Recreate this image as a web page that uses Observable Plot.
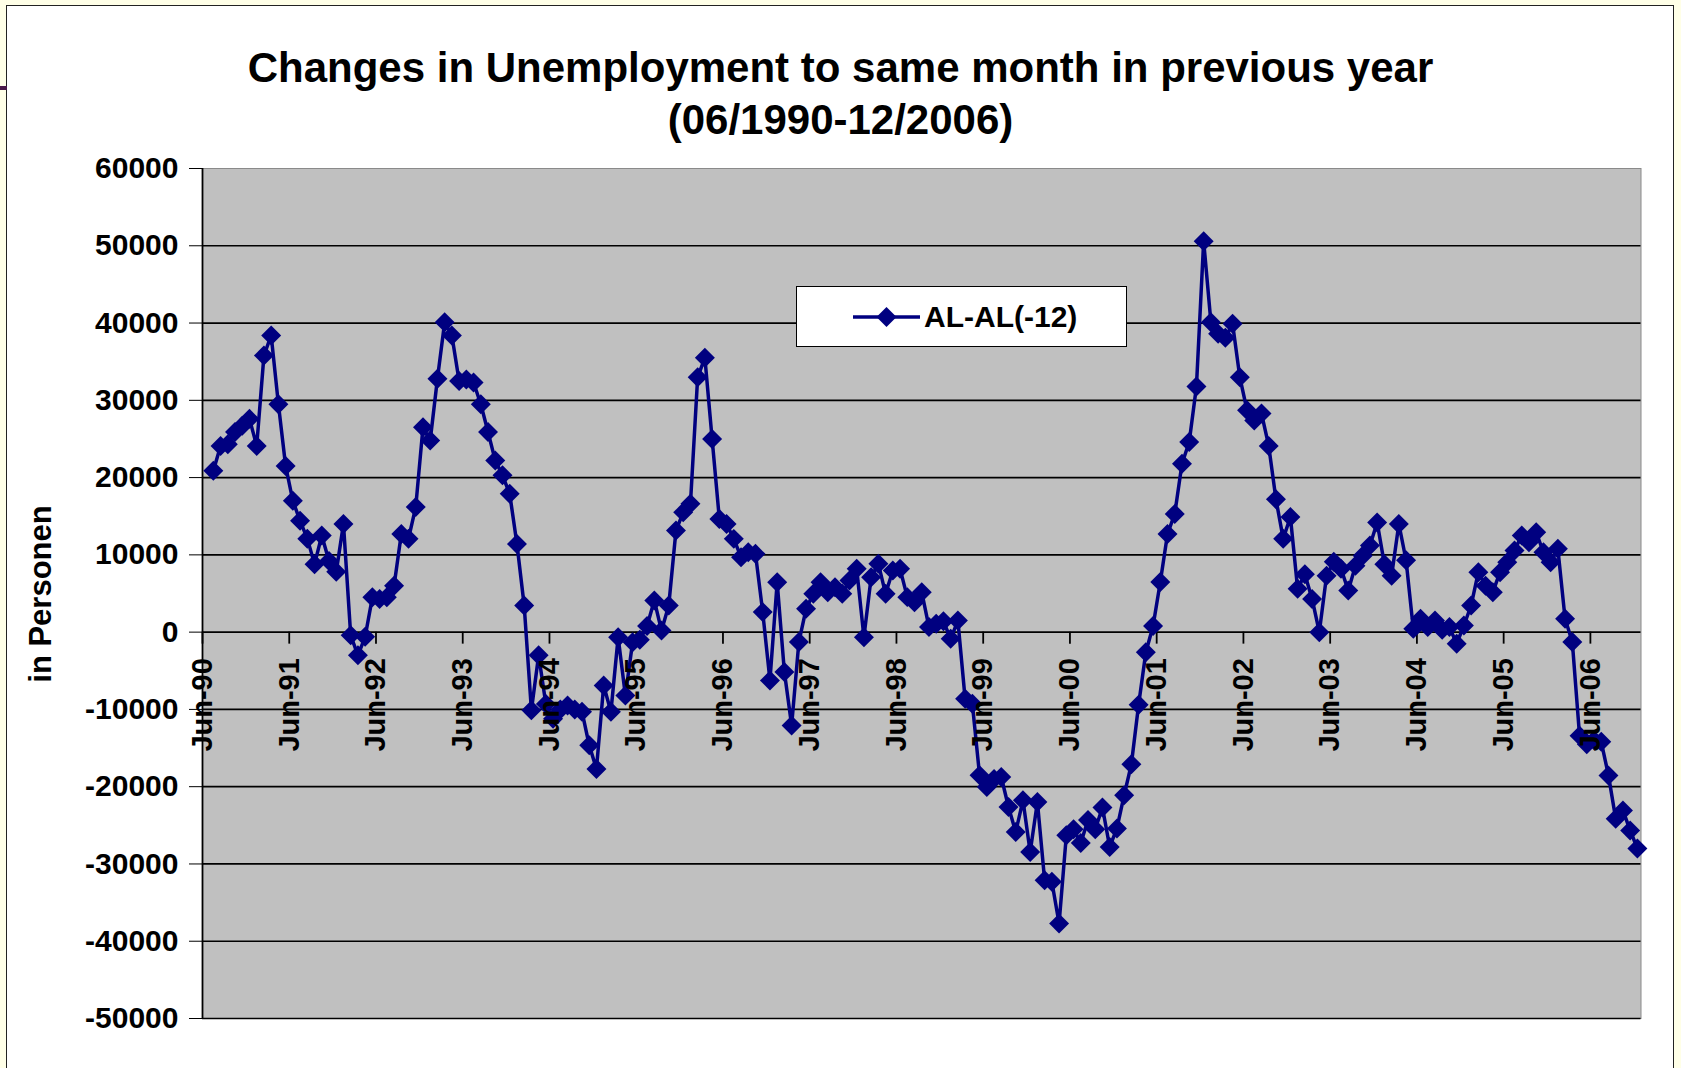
<!DOCTYPE html>
<html>
<head>
<meta charset="utf-8">
<script src="https://cdn.jsdelivr.net/npm/d3@7"></script>
<script src="https://cdn.jsdelivr.net/npm/@observablehq/plot@0.6"></script>
<style>
  html, body { margin: 0; padding: 0; background: #FFFFE7; }
  body { width: 1681px; height: 1068px; overflow: hidden; position: relative;
         font-family: "Liberation Sans", Arial, sans-serif; }
  #sheet { position: absolute; left: 6px; top: 5px; width: 1668px; height: 1080px;
           background: #ffffff; border: 1.5px solid #222; box-sizing: border-box; }
  #mark { position: absolute; left: 0; top: 86px; width: 7px; height: 4px; background: #4a1a4a; }
  #chart { position: absolute; left: 0; top: 0; }
  .title { position: absolute; left: 0; width: 1681px; text-align: center; font-weight: bold;
           font-size: 42px; color: #000; white-space: nowrap; }
  #ylabel { position: absolute; left: 41px; top: 594px; transform: translate(-50%, -50%) rotate(-90deg);
            font-weight: bold; font-size: 31px; white-space: nowrap; color: #000; }
  #legend { position: absolute; left: 796px; top: 286px; width: 331px; height: 61px; background: #fff;
            border: 1.5px solid #000; box-sizing: border-box; }
  #legend svg { position: absolute; left: 0; top: 0; }
  #legend span { position: absolute; left: 127px; top: 30px; transform: translateY(-50%);
                 font-weight: bold; font-size: 30px; white-space: nowrap; color: #000; }
</style>
</head>
<body>
<div id="sheet"></div>
<div id="mark"></div>
<div id="chart"></div>
<div class="title" style="top:44px;">Changes in Unemployment to same month in previous year</div>
<div class="title" style="top:96px;">(06/1990-12/2006)</div>
<div id="ylabel">in Personen</div>
<div id="legend"><span></span></div>
<script>
// Year-over-year change (persons); first value is Jul-90, last is Dec-06
const changes = [
  20900, 24100, 24300, 25900, 26700, 27600, 24100, 35800, 38400, 29500,
  21500, 17000, 14400, 12100, 8800, 12500, 9200, 7800, 14000, -400,
  -3000, -600, 4500, 4300, 4500, 6000, 12700, 12100, 16200, 26500,
  24800, 32800, 40100, 38400, 32500, 32700, 32300, 29500, 25900, 22200,
  20300, 17900, 11400, 3450, -10100, -3000, -9300, -11200, -10000, -9500,
  -10000, -10300, -14650, -17700, -6900, -10300, -650, -8200, -1300, -1000,
  800, 4100, 200, 3450, 13150, 15500, 16600, 33000, 35500, 25000,
  14650, 14000, 12070, 9700, 10340, 10130, 2590, -6250, 6470, -5170,
  -12070, -1290, 3020, 4960, 6470, 5170, 5820, 4960, 6680, 8190,
  -650, 7110, 8840, 4960, 7970, 8190, 4530, 3880, 5170, 650,
  1080, 1400, -860, 1500, -8620, -9270, -18530, -20040, -19000, -18750,
  -22630, -25860, -21770, -28450, -21980, -32100, -32300, -37700, -26300, -25500,
  -27300, -24300, -25500, -22700, -27800, -25400, -21100, -17100, -9400, -2600,
  800, 6500, 12700, 15300, 21800, 24600, 31800, 50600, 40100, 38600,
  38100, 39900, 33000, 28700, 27400, 28300, 24100, 17200, 12100, 14900,
  5600, 7500, 4300, 0, 7300, 9100, 8200, 5400, 8600, 9900,
  11200, 14200, 8800, 7300, 14000, 9300, 430, 1720, 650, 1500,
  300, 650, -1500, 860, 3450, 7760, 6000, 5170, 7760, 9050,
  10560, 12500, 11640, 12930, 10340, 9050, 10780, 1720, -1290, -13400,
  -14500, -14000, -14200, -18540, -24150, -23070, -25660, -28000
];
// Category axis: Jun-90 ... Dec-06 (199 months), Jun-90 category has no value
const categoryCount = 199;
const firstValueCategory = 1;
const tickLabels = ["Jun-90","Jun-91","Jun-92","Jun-93","Jun-94","Jun-95","Jun-96","Jun-97","Jun-98",
                    "Jun-99","Jun-00","Jun-01","Jun-02","Jun-03","Jun-04","Jun-05","Jun-06"];
const yTicks = [-50000,-40000,-30000,-20000,-10000,0,10000,20000,30000,40000,50000,60000];
const gridValues = [-50000,-40000,-30000,-20000,-10000,0,10000,20000,30000,40000,50000];
const seriesName = "AL-AL(-12)";
const navy = "#000080";

const points = changes.map((v, i) => ({cat: i + firstValueCategory, v}));
// tick marks sit on category boundaries, one every 12 months
const ticks = tickLabels.map((label, k) => ({pos: -0.5 + 12 * k, label}));

const W = 1681, H = 1068, mT = 168, mB = 50, mL = 202, mR = 40.5;
const yDomain = [-50000, 60000];
const unitsPerPx = (yDomain[1] - yDomain[0]) / (H - mT - mB);

const chart = Plot.plot({
  width: W, height: H,
  marginTop: mT, marginBottom: mB, marginLeft: mL, marginRight: mR,
  style: {fontFamily: '"Liberation Sans", Arial, sans-serif', fontSize: "30px", fontWeight: "bold",
          background: "transparent", color: "#000", overflow: "visible"},
  x: {domain: [-0.5, categoryCount - 0.5], axis: null},
  y: {domain: yDomain, ticks: yTicks, tickFormat: d => String(d), tickSize: 13, tickPadding: 11, label: null},
  marks: [
    Plot.frame({fill: "#c0c0c0", stroke: "#8a8a8a"}),
    Plot.ruleY(gridValues, {stroke: "#000", strokeWidth: 1.7}),
    Plot.ruleX([-0.5], {stroke: "#000", strokeWidth: 1.8}),
    Plot.ruleX(ticks, {x: "pos", y1: 0, y2: -12 * unitsPerPx, stroke: "#000", strokeWidth: 1.8}),
    Plot.line(points, {x: "cat", y: "v", stroke: navy, strokeWidth: 3.5, strokeLinejoin: "round"}),
    Plot.dot(points, {x: "cat", y: "v", symbol: "diamond2", r: 9, fill: navy, stroke: null}),
    Plot.text(ticks, {x: "pos", y: () => 0, text: "label", rotate: -90, textAnchor: "end",
                      dy: 26, fontSize: 29, fontWeight: "bold", fill: "#000"})
  ]
});
document.getElementById("chart").appendChild(chart);

// legend swatch drawn with the same symbol generator
const lg = d3.select("#legend").insert("svg", "span").attr("width", 331).attr("height", 61);
lg.append("line").attr("x1", 56).attr("x2", 123).attr("y1", 30).attr("y2", 30)
  .attr("stroke", navy).attr("stroke-width", 3.5);
lg.append("path").attr("transform", "translate(89.5,30)")
  .attr("d", d3.symbol(d3.symbolDiamond2, Math.PI * 81)()).attr("fill", navy);
document.querySelector("#legend span").textContent = seriesName;
</script>
</body>
</html>
